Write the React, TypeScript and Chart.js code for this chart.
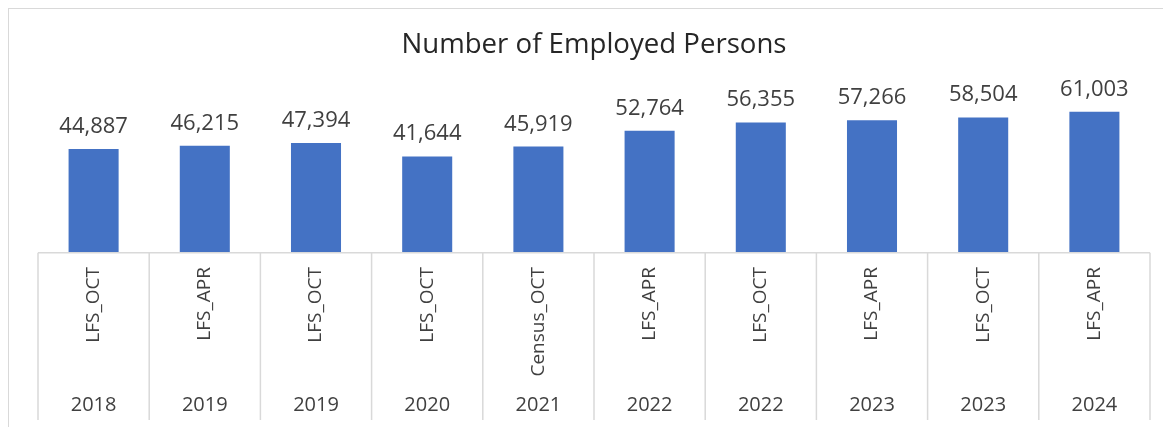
import React, { useEffect, useRef } from "react";
import { Chart, registerables } from "chart.js";

Chart.register(...registerables);

const categories = ["LFS_OCT", "LFS_APR", "LFS_OCT", "LFS_OCT", "Census_OCT", "LFS_APR", "LFS_OCT", "LFS_APR", "LFS_OCT", "LFS_APR"];
const years = ["2018", "2019", "2019", "2020", "2021", "2022", "2022", "2023", "2023", "2024"];
const employed = [44887, 46215, 47394, 41644, 45919, 52764, 56355, 57266, 58504, 61003];

const FONT = "Open Sans";
const TEXT = "#404040";
const GRID = "#d9d9d9";
const BAR = "#4472C4";

const decor = {
  id: "decor",
  afterDatasetsDraw(chart: any) {
    const ctx = chart.ctx as CanvasRenderingContext2D;
    const meta = chart.getDatasetMeta(0);
    const xs = chart.scales.x;
    const x2 = chart.scales.x2;
    const { left, right, bottom } = chart.chartArea;
    ctx.save();
    ctx.strokeStyle = GRID;
    ctx.lineWidth = 1.5;
    ctx.beginPath();
    ctx.moveTo(left, bottom);
    ctx.lineTo(right, bottom);
    for (let i = 0; i <= employed.length; i++) {
      const px = xs.getPixelForValue(i - 0.5);
      ctx.moveTo(px, bottom);
      ctx.lineTo(px, x2.bottom);
    }
    ctx.stroke();
    ctx.font = `22px "${FONT}"`;
    ctx.fillStyle = TEXT;
    ctx.textAlign = "center";
    ctx.textBaseline = "alphabetic";
    meta.data.forEach((bar: any, i: number) => {
      ctx.fillText(employed[i].toLocaleString("en-US"), bar.x, bar.y - 16);
    });
    ctx.restore();
  },
};

export default function App() {
  const ref = useRef<HTMLCanvasElement>(null);
  useEffect(() => {
    let chart: Chart | null = null;
    let cancelled = false;
    const make = () => {
      if (cancelled || !ref.current) return;
      chart = new Chart(ref.current, {
        type: "bar",
        data: {
          labels: categories,
          datasets: [
            {
              data: employed,
              backgroundColor: BAR,
              borderWidth: 0,
              barPercentage: 0.45,
              categoryPercentage: 1,
            },
          ],
        },
        options: {
          responsive: true,
          maintainAspectRatio: false,
          animation: false,
          layout: { padding: { left: 29, right: 29, top: 0, bottom: 7 } },
          plugins: {
            legend: { display: false },
            tooltip: { enabled: false },
            title: {
              display: true,
              text: "Number of Employed Persons",
              color: "#262626",
              font: { family: FONT, size: 27.6, weight: "normal", lineHeight: 1.2 },
              padding: { top: 19.4, bottom: 29.3 },
            },
          },
          scales: {
            y: { display: false, min: 0, max: 70000 },
            x: {
              type: "category",
              position: "bottom",
              weight: 0,
              offset: true,
              grid: { display: false, drawTicks: false },
              border: { display: false },
              ticks: {
                autoSkip: false,
                minRotation: 90,
                maxRotation: 90,
                padding: 14.3,
                color: TEXT,
                font: { family: FONT, size: 19 },
              },
              afterFit: (s: any) => {
                s.height = 135;
              },
            },
            x2: {
              type: "category",
              labels: years,
              position: "bottom",
              weight: 1,
              offset: true,
              grid: { display: false, drawTicks: false },
              border: { display: false },
              ticks: {
                autoSkip: false,
                maxRotation: 0,
                padding: 5.8,
                color: TEXT,
                font: { family: FONT, size: 20, lineHeight: 1.2 },
              },
              afterFit: (s: any) => {
                s.height = 32.3;
              },
            },
          },
        },
        plugins: [decor],
      } as any);
    };
    (document as any).fonts.load(`20px "${FONT}"`).then(make, make);
    return () => {
      cancelled = true;
      if (chart) chart.destroy();
    };
  }, []);

  return (
    <div
      style={{
        position: "fixed",
        left: 8,
        top: 8,
        width: 1170,
        height: 418,
        borderTop: `1px solid ${GRID}`,
        borderLeft: `1px solid ${GRID}`,
        background: "#fff",
      }}
    >
      <canvas ref={ref} />
    </div>
  );
}
